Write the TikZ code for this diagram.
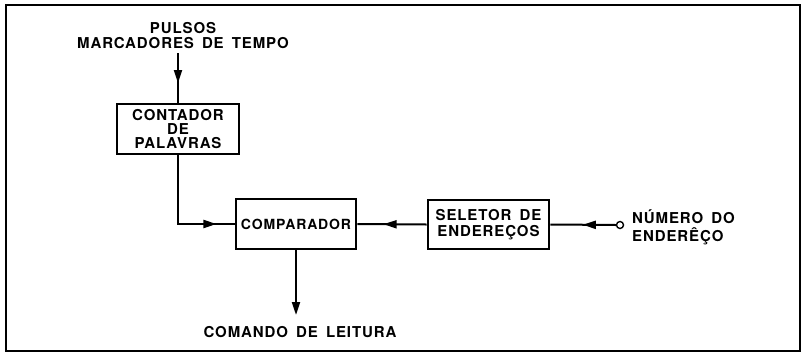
\documentclass[tikz,border=0pt]{standalone}
\usepackage{fontspec}
\setmainfont{TeX Gyre Heros}[LetterSpace=6, WordSpace=1.6]
\usetikzlibrary{arrows.meta,decorations.markings}
\tikzset{
  frame/.style={draw=black, line width=2.5pt},
  blk/.style={draw=black, line width=2.9pt, inner sep=0pt, align=center},
  txt/.style={inner sep=0pt},
  conn/.style={draw=black, line width=2pt},
  midarrow/.style={postaction={decorate}, decoration={markings,
      mark=at position #1 with {\arrow{Triangle[length=13pt,width=8pt]}}}},
  endarrow/.style={-{Triangle[length=13pt,width=8pt]}}
}
\begin{document}
\begin{tikzpicture}[x=1pt,y=-1pt, font=\fontsize{15}{15}\selectfont\bfseries]
\useasboundingbox (0,0) rectangle (803,354);
\draw[frame] (6,5) rectangle (800,351);

\node[txt, align=center] (pulsos) at (183,35.5) {PULSOS\\MARCADORES DE TEMPO};
\coordinate (in) at (178,53);

\node[blk, minimum width=122pt, minimum height=50pt, font=\fontsize{15}{14}\selectfont\bfseries] (cont) at (178,129) {CONTADOR\\DE\\PALAVRAS};
\node[blk, minimum width=120pt, minimum height=50pt, font=\fontsize{14}{15}\selectfont\bfseries] (comp) at (296,224) {COMPARADOR};
\node[blk, minimum width=121pt, minimum height=49pt, font=\fontsize{15}{15.5}\selectfont\bfseries] (sel) at (488.5,224.5) {SELETOR DE\\ENDEREÇOS};
\node[circle, draw=black, line width=1.4pt, inner sep=0pt, minimum size=7pt] (term) at (620,225) {};
\node[txt, align=left, anchor=west, font=\fontsize{15}{18}\selectfont\bfseries] (num) at (632,227) {NÚMERO DO\\ENDERÊÇO};
\node[txt] (cmd) at (300,332) {COMANDO DE LEITURA};
\coordinate (cmdtip) at (297,315);

\draw[conn, midarrow=30pt] (in) -- (cont.north);
\draw[conn, midarrow=107pt] (cont.south) |- (comp.west);
\draw[conn, midarrow=43pt] (sel.west) -- (comp.east);
\draw[conn, midarrow=33pt] (term.west) -- (sel.east);
\draw[conn, endarrow] (comp.south) -- (comp.south |- cmdtip);
\end{tikzpicture}
\end{document}
